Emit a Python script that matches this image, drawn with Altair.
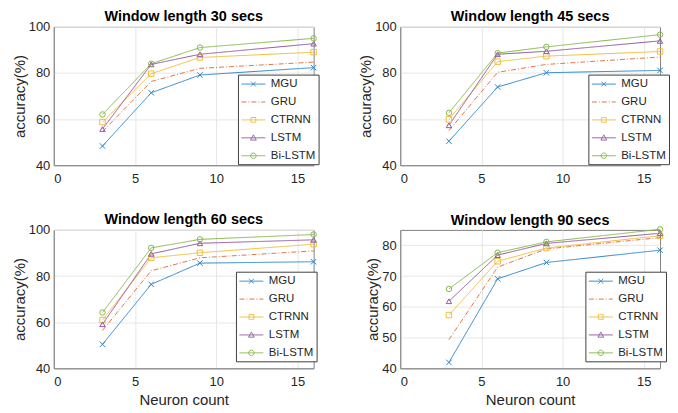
import altair as alt
import pandas as pd

neurons = [3, 6, 9, 16]
models = ["MGU", "GRU", "CTRNN", "LSTM", "Bi-LSTM"]
colors = ["#2a86cc", "#e0764a", "#f0bd3a", "#9158a2", "#85b84a"]

acc_30 = {
    "MGU": [48.3, 71.4, 79.1, 82.3],
    "GRU": [54.6, 76.3, 82.0, 84.7],
    "CTRNN": [58.7, 79.7, 86.7, 89.0],
    "LSTM": [55.7, 83.7, 88.1, 92.7],
    "Bi-LSTM": [62.0, 84.0, 91.0, 95.0],
}
acc_45 = {
    "MGU": [50.4, 73.9, 80.1, 81.1],
    "GRU": [55.0, 80.3, 83.7, 86.9],
    "CTRNN": [59.9, 84.9, 87.3, 89.3],
    "LSTM": [57.3, 88.1, 89.4, 93.9],
    "Bi-LSTM": [62.7, 88.6, 91.3, 96.6],
}
acc_60 = {
    "MGU": [50.4, 76.4, 85.6, 86.2],
    "GRU": [56.4, 82.3, 87.9, 90.9],
    "CTRNN": [60.9, 87.9, 90.1, 93.8],
    "LSTM": [59.1, 89.6, 94.2, 95.7],
    "Bi-LSTM": [64.2, 92.2, 95.9, 98.0],
}
acc_90 = {
    "MGU": [41.9, 69.1, 74.4, 78.4],
    "GRU": [49.3, 72.9, 78.8, 82.5],
    "CTRNN": [57.3, 74.8, 79.1, 83.1],
    "LSTM": [61.8, 76.8, 80.6, 83.9],
    "Bi-LSTM": [65.8, 77.6, 81.1, 85.2],
}

FONT = "Liberation Sans"
TXT = "#262626"

point_shapes = {
    "MGU": "M-1,-1L1,1M-1,1L1,-1",
    "CTRNN": "square",
    "LSTM": "triangle-up",
    "Bi-LSTM": "circle",
}
dashes = [[1, 0], [5, 2, 1, 2], [1, 0], [1, 0], [1, 0]]

leg_paths = {
    "MGU": "M-2,0H2M-0.4,-0.4L0.4,0.4M-0.4,0.4L0.4,-0.4",
    "GRU": "M-2,0H2",
    "CTRNN": "M-2,0H2M-0.4,-0.4H0.4V0.4H-0.4Z",
    "LSTM": "M-2,0H2M0,-0.5L0.48,0.38H-0.48Z",
    "Bi-LSTM": "M-2,0H2M0.45,0A0.45,0.45 0 1,1 -0.45,0A0.45,0.45 0 1,1 0.45,0Z",
}
shape_expr = " : ".join(
    f"datum.value === '{m}' ? '{p}'" for m, p in leg_paths.items()
) + " : 'circle'"
dash_expr = "datum.value === 'GRU' ? [5,2,1,2] : [1,0]"


def make_df(acc):
    rows = []
    for m in models:
        for n, v in zip(neurons, acc[m]):
            rows.append({"neurons": n, "acc": v, "model": m})
    return pd.DataFrame(rows)


def panel(acc, title, ymax, yvals, show_xtitle, lx, ly):
    df = make_df(acc)
    xaxis = alt.Axis(values=[0, 5, 10, 15], labelPadding=7,
                     title="Neuron count" if show_xtitle else None)
    x = alt.X("neurons:Q", scale=alt.Scale(domain=[0, 16], nice=False), axis=xaxis)
    y = alt.Y("acc:Q", scale=alt.Scale(domain=[40, ymax], nice=False, zero=False),
              axis=alt.Axis(values=yvals, title="accuracy(%)", labelPadding=4, titlePadding=1))
    cscale = alt.Scale(domain=models, range=colors)
    legend = alt.Legend(
        orient="none", legendX=lx, legendY=ly, title=None,
        strokeColor="#404040", fillColor="white", padding=3, rowPadding=6,
        labelFont=FONT, labelFontSize=11.5, labelColor=TXT, labelOffset=11,
        symbolSize=144, symbolStrokeWidth=1, symbolOffset=6,
        symbolType={"expr": shape_expr}, symbolDash={"expr": dash_expr},
        symbolFillColor="transparent", symbolOpacity=1,
    )
    lines = alt.Chart(df).mark_line(strokeWidth=1).encode(
        x=x, y=y,
        color=alt.Color("model:N", scale=cscale, legend=legend),
        strokeDash=alt.StrokeDash("model:N", scale=alt.Scale(domain=models, range=dashes), legend=None),
    )
    layers = [lines]
    for m, shp in point_shapes.items():
        layers.append(
            alt.Chart(df).transform_filter(f"datum.model == '{m}'").mark_point(
                shape=shp, size=30, strokeWidth=1, filled=False, opacity=1
            ).encode(x=x, y=y, color=alt.Color("model:N", scale=cscale, legend=None))
        )
    return alt.layer(*layers).properties(
        width=261, height=139,
        title=alt.TitleParams(title, fontSize=14.5, fontWeight="bold", font=FONT, color="black",
                              offset=-4, anchor="middle", frame="group"),
    )


p1 = panel(acc_30, "Window length 30 secs", 100, [40, 60, 80, 100], False, 185, 48)
p2 = panel(acc_45, "Window length 45 secs", 100, [40, 60, 80, 100], False, 189, 48)
p3 = panel(acc_60, "Window length 60 secs", 100, [40, 60, 80, 100], True, 183, 42)
p4 = panel(acc_90, "Window length 90 secs", 85, [40, 50, 60, 70, 80], True, 186, 42)

chart = alt.concat(p1, p2, p3, p4, columns=2, spacing={"row": 26, "column": 38}).resolve_scale(
    color="independent", strokeDash="independent", y="independent", x="independent"
).resolve_legend(color="independent").configure(
    font=FONT, padding={"left": 3, "top": 0, "right": 0, "bottom": 0}
).configure_axis(
    labelFont=FONT, labelFontSize=13, labelColor=TXT,
    titleFont=FONT, titleFontSize=15, titleFontWeight="normal", titleColor=TXT,
    gridColor="#e6e6e6", domainColor="#808080", ticks=False,
).configure_view(stroke="#808080")

chart.save("out.html", embed_options={"renderer": "svg", "actions": False})
